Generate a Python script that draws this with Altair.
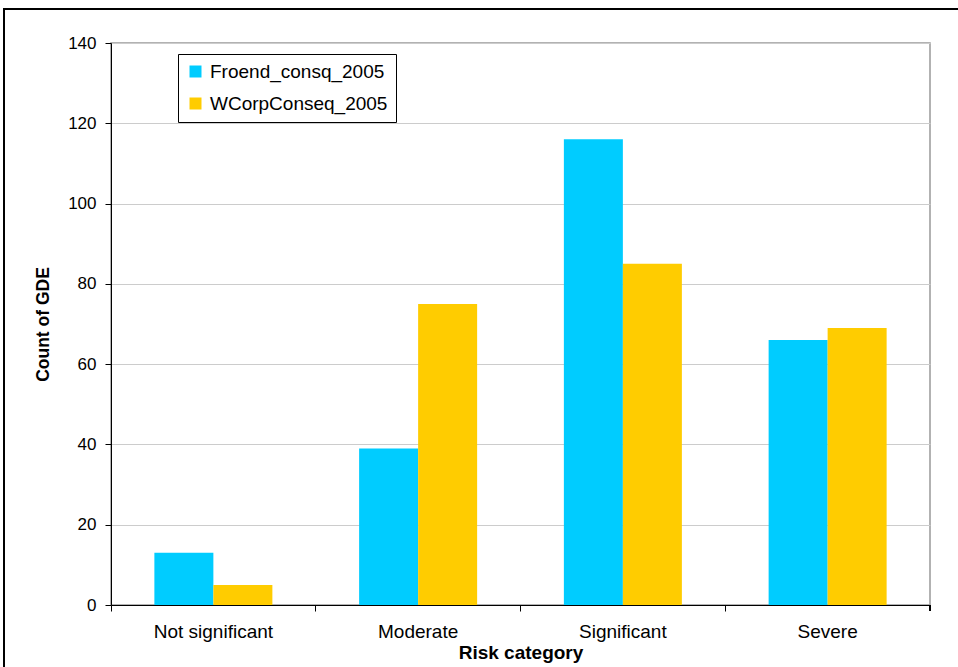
import altair as alt
import pandas as pd

categories = ["Not significant", "Moderate", "Significant", "Severe"]
series_names = ["Froend_consq_2005", "WCorpConseq_2005"]
froend_counts = [13, 39, 116, 66]
wcorp_counts = [5, 75, 85, 69]
colors = ["#00CCFF", "#FFCC00"]

rows = []
for cat, a, b in zip(categories, froend_counts, wcorp_counts):
    rows.append({"category": cat, "series": series_names[0], "count": a})
    rows.append({"category": cat, "series": series_names[1], "count": b})
df = pd.DataFrame(rows)

W, H = 819, 562
FONT = "Liberation Sans"

bars = alt.Chart(df).mark_bar(size=59).encode(
    x=alt.X(
        "category:N",
        sort=categories,
        title="Risk category",
        scale=alt.Scale(paddingInner=0, paddingOuter=0),
        axis=alt.Axis(
            bandPosition=0,
            grid=False,
            labelAngle=0,
            tickSize=6,
            tickColor="#000000",
            domainColor="#000000",
            labelPadding=11,
            labelFontSize=19,
            labelColor="#000000",
            titleFontSize=19,
            titleFontWeight="bold",
            titlePadding=2,
            titleColor="#000000",
        ),
    ),
    xOffset=alt.XOffset(
        "series:N",
        sort=series_names,
        scale=alt.Scale(paddingInner=0, paddingOuter=0.735),
    ),
    y=alt.Y(
        "count:Q",
        title="Count of GDE",
        scale=alt.Scale(domain=[0, 140]),
        axis=alt.Axis(
            values=list(range(0, 141, 20)),
            tickSize=6,
            tickColor="#000000",
            domainColor="#000000",
            gridColor="#cccccc",
            labelPadding=9,
            labelFontSize=17,
            labelColor="#000000",
            titleFontSize=17.5,
            titleFontWeight="bold",
            titlePadding=15,
            titleColor="#000000",
        ),
    ),
    color=alt.Color(
        "series:N",
        sort=series_names,
        scale=alt.Scale(domain=series_names, range=colors),
        legend=alt.Legend(
            title=None,
            orient="none",
            legendX=67,
            legendY=11,
            symbolType="square",
            symbolSize=144,
            symbolStrokeWidth=0,
            symbolOffset=0,
            labelOffset=5,
            labelLimit=0,
            labelFontSize=19,
            labelColor="#000000",
            labelFont=FONT,
            rowPadding=12,
            padding=8,
            strokeColor="#000000",
            fillColor="#ffffff",
        ),
    ),
)

# closing tick at the right end of the category axis
end_tick = alt.Chart(df).mark_rule(color="#000000").encode(
    x=alt.value(W), y=alt.value(H), y2=alt.value(H + 6)
)

# outer frame around the whole figure
frame = alt.Chart(df).mark_rect(filled=False, stroke="#000000", strokeWidth=1.5).encode(
    x=alt.value(-107), y=alt.value(-34), x2=alt.value(W + 60), y2=alt.value(H + 80)
)

chart = alt.layer(frame, bars, end_tick).properties(
    width=W,
    height=H,
    autosize=alt.AutoSizeParams(type="none"),
    padding={"left": 111, "top": 43, "right": 28, "bottom": 62},
    background="#ffffff",
).configure_view(
    stroke="#999999", strokeWidth=1.5
).configure_axis(
    labelFont=FONT, titleFont=FONT
)

chart.save("out.html", embed_options={"renderer": "svg", "actions": False})
